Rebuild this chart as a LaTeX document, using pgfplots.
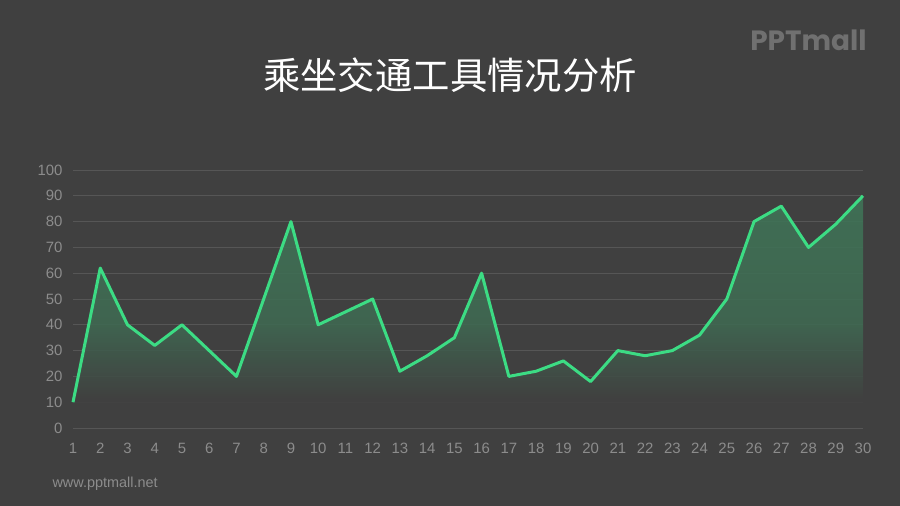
\documentclass[border=0pt]{standalone}
\usepackage{pgfplots}
\pgfplotsset{compat=1.18}
\usepackage{fontspec}
\setmainfont{Liberation Sans}
\newfontfamily\cjk{Noto Sans CJK SC}
\newfontfamily\logofont{Poppins}

\definecolor{bg}{RGB}{64,64,64}
\definecolor{linegreen}{RGB}{60,220,132}
\definecolor{gridgray}{RGB}{86,86,86}
\definecolor{ticktext}{RGB}{140,140,140}
\definecolor{logogray}{RGB}{112,112,112}
\colorlet{fillhi}{linegreen!34!bg}
\colorlet{fillmid}{linegreen!27!bg}

% vertical fade: 25bp = value 0, 75bp = value 90
\pgfdeclareverticalshading{greenfade}{100bp}{
  color(0bp)=(bg); color(31bp)=(bg); color(48bp)=(fillmid);
  color(75bp)=(fillhi); color(100bp)=(fillhi)}

\pgfplotstableread{
day value
1 10
2 62
3 40
4 32
5 40
6 30
7 20
8 50
9 80
10 40
11 45
12 50
13 22
14 28
15 35
16 60
17 20
18 22
19 26
20 18
21 30
22 28
23 30
24 36
25 50
26 80
27 86
28 70
29 79
30 90
}\ridedata

\begin{document}
\begin{tikzpicture}
\fill[bg] (0,0) rectangle (900bp,506bp);
\useasboundingbox (0,0) rectangle (900bp,506bp);

% title, logo, footer
\node[text=white, font=\cjk\fontsize{37.5}{42}\selectfont, anchor=center]
  at (450bp,431bp) {乘坐交通工具情况分析};
\node[text=logogray, font=\logofont\bfseries\fontsize{28}{30}\selectfont, anchor=east]
  at (870bp,466bp) {PPTmall};
\node[text=ticktext, font=\fontsize{14.5}{16}\selectfont, anchor=west]
  at (49bp,22bp) {www.pptmall.net};

\begin{axis}[
    at={(73bp,78bp)}, anchor=south west,
    scale only axis,
    width=790bp, height=258bp,
    xmin=1, xmax=30,
    ymin=0, ymax=100,
    xtick={1,...,30},
    ytick={0,10,...,100},
    axis line style={draw=none},
    major tick length=0pt,
    ymajorgrids=true,
    grid style={gridgray, line width=0.8bp},
    tick label style={text=ticktext, font=\fontsize{15}{15}\selectfont},
    /pgf/number format/assume math mode=true,
    xticklabel style={yshift=-12bp},
    yticklabel style={xshift=-7bp},
    clip=false,
]
\addplot[draw=none, shading=greenfade, fill opacity=0.88]
    table[x=day, y=value] {\ridedata} \closedcycle;
\addplot[linegreen, line width=3bp, line join=round, mark=none]
    table[x=day, y=value] {\ridedata};
\end{axis}
\end{tikzpicture}
\end{document}
